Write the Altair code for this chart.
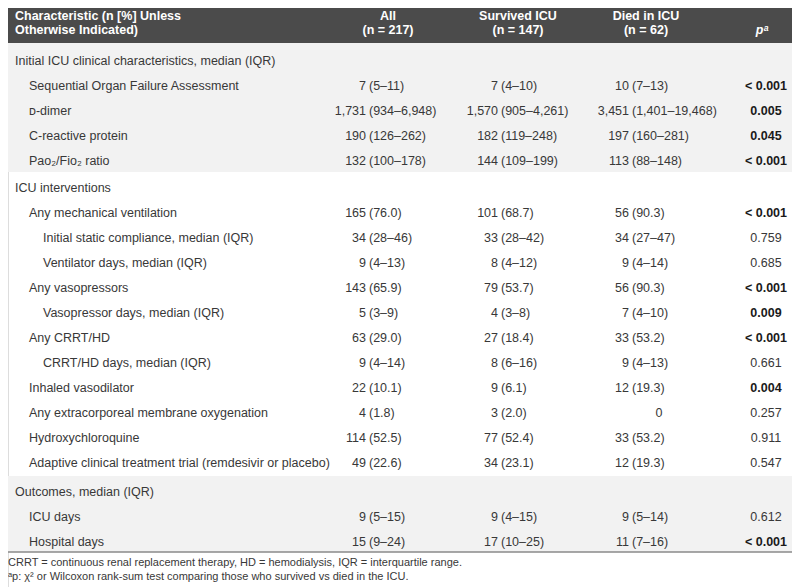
import altair as alt
import pandas as pd

# ---------------- data ----------------
labels = [
    "Initial ICU clinical characteristics, median (IQR)",
    "Sequential Organ Failure Assessment",
    "ᴅ-dimer",
    "C-reactive protein",
    "Pao₂/Fio₂ ratio",
    "ICU interventions",
    "Any mechanical ventilation",
    "Initial static compliance, median (IQR)",
    "Ventilator days, median (IQR)",
    "Any vasopressors",
    "Vasopressor days, median (IQR)",
    "Any CRRT/HD",
    "CRRT/HD days, median (IQR)",
    "Inhaled vasodilator",
    "Any extracorporeal membrane oxygenation",
    "Hydroxychloroquine",
    "Adaptive clinical treatment trial (remdesivir or placebo)",
    "Outcomes, median (IQR)",
    "ICU days",
    "Hospital days",
]
levels = [0, 1, 1, 1, 1, 0, 1, 2, 2, 1, 2, 1, 2, 1, 1, 1, 1, 0, 1, 1]
sections = [0, 0, 0, 0, 0, 1, 1, 1, 1, 1, 1, 1, 1, 1, 1, 1, 1, 2, 2, 2]

all_vals = ["", "7 (5–11)", "1,731 (934–6,948)", "190 (126–262)", "132 (100–178)",
            "", "165 (76.0)", "34 (28–46)", "9 (4–13)", "143 (65.9)", "5 (3–9)",
            "63 (29.0)", "9 (4–14)", "22 (10.1)", "4 (1.8)", "114 (52.5)", "49 (22.6)",
            "", "9 (5–15)", "15 (9–24)"]
survived_vals = ["", "7 (4–10)", "1,570 (905–4,261)", "182 (119–248)", "144 (109–199)",
                 "", "101 (68.7)", "33 (28–42)", "8 (4–12)", "79 (53.7)", "4 (3–8)",
                 "27 (18.4)", "8 (6–16)", "9 (6.1)", "3 (2.0)", "77 (52.4)", "34 (23.1)",
                 "", "9 (4–15)", "17 (10–25)"]
died_vals = ["", "10 (7–13)", "3,451 (1,401–19,468)", "197 (160–281)", "113 (88–148)",
             "", "56 (90.3)", "34 (27–47)", "9 (4–14)", "56 (90.3)", "7 (4–10)",
             "33 (53.2)", "9 (4–13)", "12 (19.3)", "0", "33 (53.2)", "12 (19.3)",
             "", "9 (5–14)", "11 (7–16)"]
p_vals = ["", "< 0.001", "0.005", "0.045", "< 0.001",
          "", "< 0.001", "0.759", "0.685", "< 0.001", "0.009",
          "< 0.001", "0.661", "0.004", "0.257", "0.911", "0.547",
          "", "0.612", "< 0.001"]

header_cols = [("All", "(n = 217)"), ("Survived ICU", "(n = 147)"), ("Died in ICU", "(n = 62)")]
header_first = ["Characteristic (n [%] Unless", "Otherwise Indicated)"]
p_header = "pᵃ"
footnotes = [
    "CRRT = continuous renal replacement therapy, HD = hemodialysis, IQR = interquartile range.",
    "ᵃp: χ² or Wilcoxon rank-sum test comparing those who survived vs died in the ICU.",
]

# ---------------- layout (chart coordinates) ----------------
W, H = 784, 579
OFF = 8
FONT = "Liberation Sans"
FS = 12.5
TXT = "#383838"

indent_x = [15 - OFF, 29 - OFF, 43 - OFF]
anchors = [369 - OFF, 501 - OFF, 632 - OFF]
head_centers = [388 - OFF, 518 - OFF, 646 - OFF]
p_center = 766 - OFF
p_head_center = 762 - OFF
sec_gap = [0, 2, 6]

row_y = [61 + 25 * i + sec_gap[s] - OFF for i, s in enumerate(sections)]

left_rows, right_rows, center_rows, bold_center_rows = [], [], [], []
for i, lab in enumerate(labels):
    left_rows.append({"x": indent_x[levels[i]], "y": row_y[i], "t": lab})
    for c, vals in enumerate([all_vals, survived_vals, died_vals]):
        v = vals[i]
        if not v:
            continue
        if "(" in v:
            num, par = v.split(" (", 1)
            right_rows.append({"x": anchors[c] - 3, "y": row_y[i], "t": num})
            left_rows.append({"x": anchors[c], "y": row_y[i], "t": "(" + par})
        else:
            center_rows.append({"x": anchors[c] + 27, "y": row_y[i], "t": v})
    pv = p_vals[i]
    if pv:
        sig = pv.startswith("<") or float(pv) < 0.05
        (bold_center_rows if sig else center_rows).append({"x": p_center, "y": row_y[i], "t": pv})

foot_rows = [{"x": 0, "y": 563 - OFF, "t": footnotes[0]},
             {"x": 0, "y": 577 - OFF, "t": footnotes[1]}]

head_left = [{"x": 15 - OFF, "y": 16 - OFF, "t": header_first[0]},
             {"x": 15 - OFF, "y": 30 - OFF, "t": header_first[1]}]
head_center = []
for c, (a, b) in enumerate(header_cols):
    head_center.append({"x": head_centers[c], "y": 16 - OFF, "t": a})
    head_center.append({"x": head_centers[c], "y": 30 - OFF, "t": b})
head_p = [{"x": p_head_center, "y": 30 - OFF, "t": p_header}]

s0 = [i for i, s in enumerate(sections) if s == 0]
s2 = [i for i, s in enumerate(sections) if s == 2]
bands = pd.DataFrame([
    {"x0": 0, "x1": W, "y0": 0, "y1": 43 - OFF, "c": "#4b4b4b"},
    {"x0": 0, "x1": W, "y0": row_y[s0[0]] - 18, "y1": row_y[s0[-1]] + 11, "c": "#f2f2f2"},
    {"x0": 0, "x1": W, "y0": row_y[s2[0]] - 16, "y1": row_y[s2[-1]] + 10, "c": "#f2f2f2"},
])
rule_df = pd.DataFrame([{"x0": 0, "x1": W, "y": row_y[s2[-1]] + 10}])

xs = alt.Scale(domain=[0, W], range=[0, W], nice=False, zero=False)
ys = alt.Scale(domain=[0, H], range=[0, H], nice=False, zero=False)


def X(f="x"):
    return alt.X(f"{f}:Q", scale=xs, axis=None)


def Y(f="y"):
    return alt.Y(f"{f}:Q", scale=ys, axis=None)


band_layer = alt.Chart(bands).mark_rect().encode(
    x=X("x0"), x2="x1:Q", y=Y("y0"), y2="y1:Q",
    color=alt.Color("c:N", scale=None))

rule_layer = alt.Chart(rule_df).mark_rule(color="#8a8a8a", strokeWidth=1.5).encode(
    x=X("x0"), x2="x1:Q", y=Y("y"))


def text_layer(rows, align, color=TXT, weight="normal", style="normal", size=FS):
    return alt.Chart(pd.DataFrame(rows)).mark_text(
        align=align, baseline="middle", font=FONT, fontSize=size,
        fontWeight=weight, fontStyle=style, color=color
    ).encode(x=X(), y=Y(), text="t:N")


chart = alt.layer(
    band_layer,
    rule_layer,
    text_layer(left_rows, "left"),
    text_layer(right_rows, "right"),
    text_layer(center_rows, "center"),
    text_layer(bold_center_rows, "center", color="#1a1a1a", weight="bold"),
    text_layer(foot_rows, "left", size=11),
    text_layer(head_left, "left", color="white", weight="bold"),
    text_layer(head_center, "center", color="white", weight="bold"),
    text_layer(head_p, "center", color="white", weight="bold", style="italic"),
).properties(
    width=W, height=H, padding=0, autosize=alt.AutoSizeParams(type="none")
).configure_view(stroke=None).configure(background="white")

chart.save("out.html", embed_options={"renderer": "svg", "actions": False})
